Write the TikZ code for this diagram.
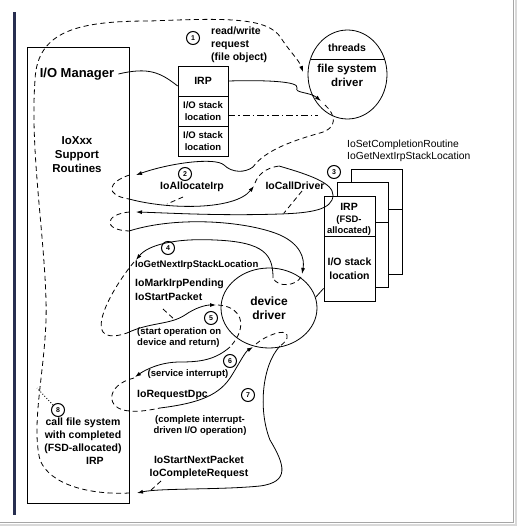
\documentclass[tikz,border=0pt]{standalone}
\usepackage{fontspec}
\setmainfont{Liberation Sans}
\usetikzlibrary{arrows.meta,shapes.geometric,calc}
\definecolor{barblue}{RGB}{40,46,80}

\begin{document}
\begin{tikzpicture}[x=1pt,y=1pt,yscale=-1,
  cell/.style={draw, line width=0.8pt, minimum width=50pt, minimum height=30pt, inner sep=0pt, align=center, font=\fontsize{9.5}{12}\selectfont\bfseries},
  page/.style={draw, fill=white, line width=0.8pt, minimum width=51pt, inner sep=0pt, align=center},
  num/.style={circle, draw, line width=1pt, minimum size=13pt, inner sep=0pt, font=\fontsize{7}{8}\selectfont\bfseries},
  lbl/.style={inner sep=0pt, align=left, font=\fontsize{10.5}{13}\selectfont\bfseries},
  note/.style={inner sep=0pt, align=left, font=\fontsize{9.5}{11}\selectfont\bfseries},
  flow/.style={line width=0.8pt, -{Latex[length=6pt,width=4pt]}},
  dsh/.style={line width=0.8pt, dash pattern=on 5pt off 3.5pt},
  ]
\useasboundingbox (0,0) rectangle (517,527);

%Shape: frame
\fill [barblue] (12.5,12) rectangle (16,515);
\draw [gray!30, line width=2pt] (515.5,0) -- (515.5,524.5) -- (0,524.5);
\draw [gray!70, line width=1.2pt] (513.5,0) -- (513.5,522.5) -- (0,522.5);

%Shape: I/O manager box
\node [draw, line width=1pt, minimum width=102pt, minimum height=455pt, inner sep=0pt] (iom) at (78,275.5) {};
\node [inner sep=1pt, font=\fontsize{13}{15}\selectfont\bfseries] (iomtxt) at (77,74) {I/O Manager};
\node [align=center, inner sep=0pt, font=\fontsize{11.5}{14}\selectfont\bfseries] (xxx) at (77,155) {IoXxx\\Support\\Routines};

%Shape: IRP with stack locations
\node [cell, font=\fontsize{10.5}{12}\selectfont\bfseries] (irp) at (203,81) {IRP};
\node [cell] (stk1) at (203,111) {I/O stack\\location};
\node [cell] (stk2) at (203,141) {I/O stack\\location};

%Shape: file system driver
\node [draw, ellipse, line width=0.8pt, minimum width=79pt, minimum height=89pt, inner sep=0pt] (fsd) at (347.5,74.5) {};
\draw [line width=0.8pt] ($(fsd.center)+(-37,-15.5)$) -- ($(fsd.center)+(37,-15.5)$);
\node [lbl] (thr) at (347,48) {threads};
\node [align=center, inner sep=0pt, font=\fontsize{11.5}{14}\selectfont\bfseries] (fsdtxt) at (347,75) {file system\\driver};

%Shape: FSD-allocated IRPs
\foreach \k in {2,1} {
  \node [page, minimum height=40pt] (ptop\k) at (349.5+13.5*\k,216-13.5*\k) {};
  \node [page, minimum height=65pt] (pbot\k) at (349.5+13.5*\k,268.5-13.5*\k) {};
}
\node [page, minimum height=40pt] (ftop) at (349.5,216) {};
\node [page, minimum height=65pt, font=\fontsize{10.5}{13.5}\selectfont\bfseries] (fbot) at (349.5,268.5) {I/O stack\\location};
\node [lbl] (firp) at (349,207) {IRP};
\node [note, align=center, font=\fontsize{9.4}{11}\selectfont\bfseries] (fsdall) at (349,225.5) {(FSD-\\allocated)};

%Shape: device driver
\node [draw, ellipse, line width=0.8pt, minimum width=96pt, minimum height=80pt, inner sep=0pt, align=center, font=\fontsize{12}{14}\selectfont\bfseries] (dd) at (269,308) {device\\driver};
\draw [line width=0.8pt] (dd.13) -- ($(fbot.south west)+(0,-13)$);

% Text Node
\node [lbl, anchor=west] (rw) at (211,45) {read/write\\request\\(file object)};
\node [inner sep=0pt, align=left, anchor=west, font=\fontsize{10.3}{11.7}\selectfont] (setc) at (347,150.5) {IoSetCompletionRoutine\\IoGetNextIrpStackLocation};
\node [lbl] (alloc) at (192,187) {IoAllocateIrp};
\node [lbl] (calld) at (295,186) {IoCallDriver};
\node [lbl, anchor=west, font=\fontsize{9.6}{11}\selectfont\bfseries] (getnx) at (135,265) {IoGetNextIrpStackLocation};
\node [lbl, anchor=west, font=\fontsize{10.5}{13.5}\selectfont\bfseries] (mark) at (135,289.5) {IoMarkIrpPending\\IoStartPacket};
\node [note, anchor=west] (start) at (137,337.5) {(start operation on\\device and return)};
\node [note] (serv) at (188,374) {(service interrupt)};
\node [lbl, anchor=west] (dpc) at (137,395) {IoRequestDpc};
\node [note, align=center] (compl) at (200,425.5) {(complete interrupt-\\driven I/O operation)};
\node [lbl, align=center] (nextp) at (199,467) {IoStartNextPacket\\IoCompleteRequest};
\node [lbl, align=center] (callfs) at (83,441.5) {call file system\\with completed\\(FSD-allocated)\\\hspace*{24pt}IRP};

% Step numbers
\node [num] (n1) at (193,38) {1};
\node [num] (n2) at (185,174) {2};
\node [num] (n3) at (334,172) {3};
\node [num] (n4) at (168,248) {4};
\node [num] (n5) at (211,318) {5};
\node [num] (n6) at (230,361) {6};
\node [num] (n7) at (248,395) {7};
\node [num] (n8) at (58,410) {8};

% junctions
\coordinate (fsdin) at (303,72);
\coordinate (t2) at (253,167);
\coordinate (a2) at (136,175);
\coordinate (o2) at (129,199);
\coordinate (a3) at (254,186);
\coordinate (t3) at (279,166);
\coordinate (a3b) at (136,212);
\coordinate (o3) at (129,231);
\coordinate (a4) at (302,274);
\coordinate (t4) at (273,278);
\coordinate (a4b) at (136,260);
\coordinate (o5) at (127,333);
\coordinate (a5) at (216,305);
\coordinate (t5) at (230,347);
\coordinate (a6) at (135,377);
\coordinate (o6) at (160,408);
\coordinate (a7) at (253,347);
\coordinate (t7) at (280,346);
\coordinate (a8) at (137,493);
\coordinate (jdot) at (37,388);

%Curve Lines: request to file system driver
\draw [line width=0.8pt] ([xshift=3pt]iomtxt.east) .. controls (148,67) and (160,72) .. ([yshift=5pt]irp.west);
\draw [flow] (irp.east) .. controls (262,80) and (300,81) .. (297,88) .. controls (294,93) and (310,92) .. (321,101);
\draw [line width=0.8pt, dash pattern=on 7pt off 3pt on 1.5pt off 3pt] ([yshift=4pt]stk1.east) -- ++(90,0);
\draw [dsh, -{Latex[length=6pt,width=4pt]}] (iom.east |- a8) .. controls (90,495) and (50,485) .. (40,460) .. controls (30,420) and (48,360) .. (46,300) .. controls (44,230) and (30,150) .. (35,80) .. controls (37,30) and (80,21) .. (150,21) .. controls (225,18) and (268,17) .. (281,38) .. controls (290,52) and (299,60) .. (fsdin);
\draw [dotted, line width=0.9pt] (n8.north west) -- (jdot);

%Curve Lines: IoAllocateIrp
\draw [dsh] (325,105) .. controls (336,115) and (338,128) .. (320,133) .. controls (295,140) and (265,150) .. (t2);
\draw [flow] (t2) .. controls (245,173) and (232,173) .. (224,165) .. controls (215,157) and (170,163) .. (a2);
\draw [dsh] (iom.east |- a2) .. controls (108,182) and (104,195) .. (o2);
\draw [flow] (o2) .. controls (170,210) and (235,210) .. (a3);
\draw [dsh] (183,197) -- (167,204);

%Curve Lines: IoCallDriver
\draw [dsh] ($(a3)+(1,-3)$) .. controls (258,175) and (265,168) .. (t3);
\draw [flow] (t3) .. controls (310,175) and (333,183) .. (333,195) .. controls (333,210) and (310,213) .. (280,214) .. controls (220,216) and (170,213) .. (a3b);
\draw [dsh] (302,191) -- (284,213);
\draw [dsh] (iom.east |- a3b) .. controls (105,214) and (102,230) .. (o3);
\draw [flow] (o3) .. controls (180,215) and (250,222) .. (280,235) .. controls (300,244) and (305,258) .. (a4);

%Curve Lines: start I/O
\draw [dsh] ($(a4)+(-1,3)$) .. controls (296,286) and (278,288) .. (t4);
\draw [flow] (t4) .. controls (273,255) and (265,242) .. (215,240) .. controls (175,238) and (148,245) .. (a4b);
\draw [dsh] ($(a4b)+(-2,2)$) .. controls (115,285) and (95,320) .. (103,332) .. controls (108,338) and (118,336) .. (o5);
\draw [flow] (o5) .. controls (150,322) and (170,325) .. (185,315) .. controls (195,308) and (205,305) .. (a5);
\draw [dsh] (163,309) -- (175,320);
\draw [dsh] ($(a5)+(2,0)$) .. controls (240,306) and (250,325) .. (t5);
\draw [flow] (t5) .. controls (215,360) and (200,362) .. (180,362) .. controls (160,362) and (145,370) .. (a6);

%Curve Lines: interrupt and completion
\draw [dsh] ($(a6)+(-1,1)$) .. controls (105,385) and (105,410) .. (130,411) .. controls (140,412) and (150,410) .. (o6);
\draw [flow] (o6) .. controls (200,403) and (220,395) .. (232,375) .. controls (240,362) and (245,352) .. (a7);
\draw [dsh] ($(a7)+(3,-3)$) .. controls (265,336) and (285,328) .. (287,335) .. controls (288,340) and (284,343) .. (t7);
\draw [flow] (t7) .. controls (262,365) and (258,410) .. (270,440) .. controls (285,465) and (290,482) .. (260,486) .. controls (220,490) and (160,488) .. (a8);
\draw [dsh] (161,481) -- (150,491);

\end{tikzpicture}
\end{document}
